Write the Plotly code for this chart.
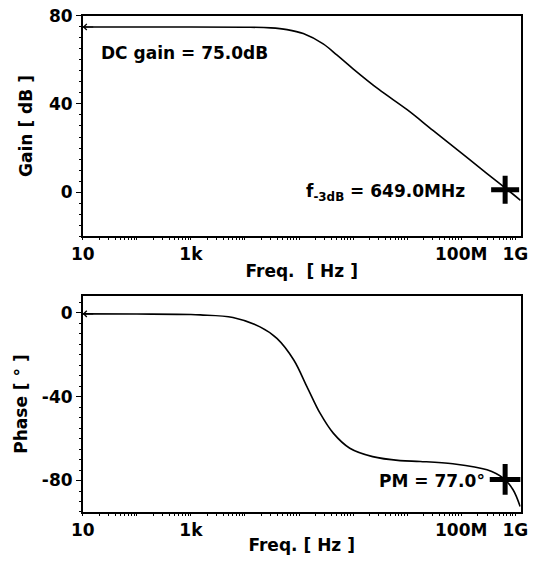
import plotly.graph_objs as go

# gain curve
GAIN_FREQ = [10, 1e3, 1e4, 3e4, 6e4, 1.2e5, 2.8e5, 5e5, 1e6, 3e6, 1e7, 3e7, 1e8, 3e8, 649e6, 1.25e9]
GAIN_DB = [75, 75, 74.9, 74.6, 73.8, 72.0, 67.3, 62.3, 56, 46.6, 37.4, 28, 17.8, 8.4, 1.9, -3.8]

# phase curve
PHASE_FREQ = [10, 100, 1e3, 1.5e3, 6e3, 1.9e4, 3.9e4, 8e4, 1.4e5, 2.45e5, 4.3e5, 8.7e5,
              2.3e6, 7.4e6, 1.75e7, 7e7, 3e8, 6e8, 9.1e8, 1.23e9]
PHASE_DEG = [-0.5, -0.6, -0.8, -1.0, -2.2, -6.7, -12.2, -22.5, -35.2, -47.9, -57.4, -64.6,
             -68.6, -70.5, -70.9, -72, -74.9, -78.9, -84.4, -92.4]

# markers
F_3DB = 649e6
GAIN_AT_F3DB = 1.0
PM_PHASE = -79.5

XTICKS = [10, 1e3, 1e8, 1e9]
XTICK_TEXT = ["10", "1k", "100M", "1G"]
GAIN_TICKS = [0, 40, 80]
PHASE_TICKS = [0, -40, -80]
MINOR_X = [m * 10 ** d for d in range(1, 10) for m in range(1, 10)]

FONT = dict(family="DejaVu Sans, sans-serif", size=17, color="black", weight="bold")
BLACK_LINE = dict(color="black", width=1.6)

fig = go.Figure()

fig.add_trace(go.Scatter(x=GAIN_FREQ, y=GAIN_DB, mode="lines", line=BLACK_LINE, line_shape="spline",
                         xaxis="x", yaxis="y", showlegend=False))
fig.add_trace(go.Scatter(x=[F_3DB], y=[GAIN_AT_F3DB], mode="markers",
                         marker=dict(symbol="cross-thin", size=20, line=dict(color="black", width=5)),
                         xaxis="x", yaxis="y", showlegend=False))

fig.add_trace(go.Scatter(x=PHASE_FREQ, y=PHASE_DEG, mode="lines", line=BLACK_LINE, line_shape="spline",
                         xaxis="x2", yaxis="y2", showlegend=False))
fig.add_trace(go.Scatter(x=[F_3DB], y=[PM_PHASE], mode="markers",
                         marker=dict(symbol="cross-thin", size=22, line=dict(color="black", width=5)),
                         xaxis="x2", yaxis="y2", showlegend=False))

# page body has an 8px margin, so the figure is a bit smaller than the window
xaxis_common = dict(type="log", range=[1, 9.1], tickvals=XTICKS, ticktext=XTICK_TEXT,
                    showline=True, linecolor="black", linewidth=1.5, mirror=True,
                    ticks="outside", ticklen=2, tickcolor="black", showgrid=False, zeroline=False,
                    tickfont=FONT, automargin=False, ticklabeloverflow="allow",
                    minor=dict(tickvals=MINOR_X, ticks="outside", ticklen=2, tickcolor="black"),
                    domain=[0.1402, 0.9619])
yaxis_common = dict(showline=True, linecolor="black", linewidth=1.5, mirror=True,
                    ticks="outside", ticklen=5, tickcolor="black", showgrid=False, zeroline=False,
                    tickfont=FONT, automargin=False, ticklabeloverflow="allow",
                    minor=dict(dtick=5, ticks="outside", ticklen=2, tickcolor="black"))

fig.update_layout(
    width=533, height=554,
    margin=dict(l=0, r=0, t=0, b=0),
    paper_bgcolor="white", plot_bgcolor="white",
    font=FONT,
    xaxis=dict(xaxis_common, anchor="y",
               title=dict(text="Freq.  [ Hz ]", font=FONT, standoff=2)),
    yaxis=dict(yaxis_common, anchor="x", range=[-20, 80], tickvals=GAIN_TICKS,
               ticktext=[str(v) for v in GAIN_TICKS],
               domain=[0.5884, 0.9856],
               title=dict(text="Gain [ dB ]", font=FONT, standoff=12)),
    xaxis2=dict(xaxis_common, anchor="y2",
                title=dict(text="Freq. [ Hz ]", font=FONT, standoff=0)),
    yaxis2=dict(yaxis_common, anchor="x2", range=[-95, 8], tickvals=PHASE_TICKS,
                ticktext=[str(v) for v in PHASE_TICKS],
                domain=[0.0903, 0.4801],
                title=dict(text="Phase [ ° ]", font=FONT, standoff=10)),
    annotations=[
        dict(x=1.3, y=63, xref="x", yref="y", text="DC gain = 75.0dB", showarrow=False,
             xanchor="left", font=FONT),
        dict(x=8.1, y=0, xref="x", yref="y", text="f<sub>-3dB</sub> = 649.0MHz", showarrow=False,
             xanchor="right", font=FONT),
        dict(x=8.47, y=-80, xref="x2", yref="y2", text="PM = 77.0°", showarrow=False,
             xanchor="right", font=FONT),
        # small arrow heads at the left edge
        dict(x=1.0, y=75, xref="x", yref="y", ax=12, ay=0, text="", showarrow=True,
             arrowhead=4, arrowsize=1, arrowwidth=1.2, arrowcolor="black"),
        dict(x=1.0, y=-0.5, xref="x2", yref="y2", ax=12, ay=0, text="", showarrow=True,
             arrowhead=4, arrowsize=1, arrowwidth=1.2, arrowcolor="black"),
    ],
)

fig.write_html("out.html")
